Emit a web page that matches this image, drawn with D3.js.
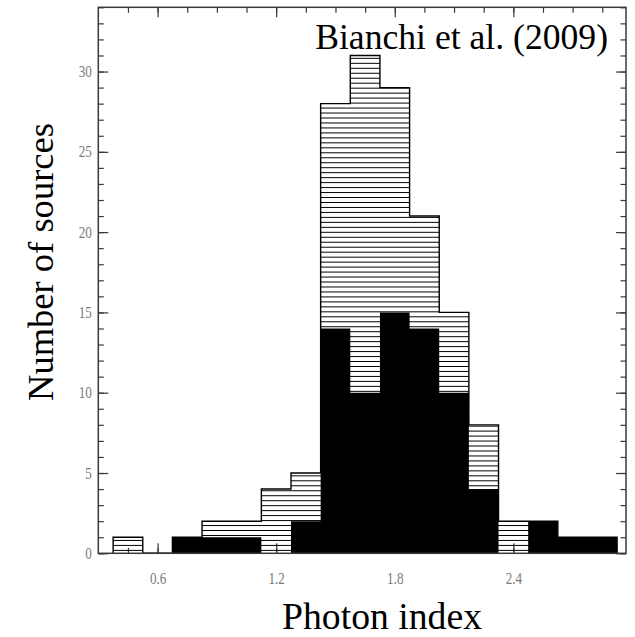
<!DOCTYPE html>
<html>
<head>
<meta charset="utf-8">
<script src="https://cdn.jsdelivr.net/npm/d3@7"></script>
<style>
  html, body { margin: 0; padding: 0; background: #fff; }
  svg { display: block; }
</style>
</head>
<body>
<svg id="chart" width="635" height="637"></svg>
<script>
// ---- data ----
const binCenters = [0.45, 0.6, 0.75, 0.9, 1.05, 1.2, 1.35, 1.5, 1.65, 1.8, 1.95, 2.1, 2.25, 2.4, 2.55, 2.7, 2.85];
const totalCounts = [1, 0, 1, 2, 2, 4, 5, 28, 31, 29, 21, 15, 8, 2, 2, 1, 1];
const subsampleCounts = [0, 0, 1, 1, 1, 0, 2, 14, 10, 15, 14, 10, 4, 0, 2, 1, 1];
const binWidth = 0.15;
const xMajorTicks = [0.6, 1.2, 1.8, 2.4];
const xMinorTicks = [0.45, 0.6, 0.75, 0.9, 1.05, 1.2, 1.35, 1.5, 1.65, 1.8, 1.95, 2.1, 2.25, 2.4, 2.55, 2.7, 2.85];
const yMajorTicks = [0, 5, 10, 15, 20, 25, 30];
const yMinorTicks = d3.range(0, 35, 1);
const xTitle = "Photon index";
const yTitle = "Number of sources";
const annotation = "Bianchi et al. (2009)";

// ---- layout ----
const L = 98.3, R = 626, T = 7.3, B = 553.3;
const svg = d3.select("#chart");
const x = d3.scaleLinear().domain([0.3, 2.97]).range([L, R]);
const y = d3.scaleLinear().domain([0, 34]).range([B, T]);

const serif = "'Liberation Serif', 'Times New Roman', serif";
const axisColor = "#3a3a3a";
const labelColor = "#7a7a7a";
const sx = 0.82; // horizontal squeeze of tick labels

// hatch pattern
const defs = svg.append("defs");
const pat = defs.append("pattern")
  .attr("id", "hatch")
  .attr("patternUnits", "userSpaceOnUse")
  .attr("x", 0).attr("y", 1.2)
  .attr("width", 8).attr("height", 4.97);
pat.append("line")
  .attr("x1", 0).attr("x2", 8).attr("y1", 2.5).attr("y2", 2.5)
  .attr("stroke", "#000").attr("stroke-width", 1.0);

// ---- axes (ticks drawn inward) ----
function styleAxis(g) {
  g.select(".domain").remove();
  g.selectAll(".tick line").attr("stroke", axisColor).attr("stroke-width", 1.2);
  g.selectAll(".tick text").attr("fill", labelColor)
    .attr("font-family", serif).attr("font-size", 16)
    .each(function () {
      const t = d3.select(this);
      const xv = parseFloat(t.attr("x") || 0);
      t.attr("x", xv / sx).attr("transform", `scale(${sx},1)`);
    });
}

const axes = svg.append("g");
// bottom
axes.append("g").attr("transform", `translate(0,${B})`)
  .call(d3.axisBottom(x).tickValues(xMinorTicks).tickSize(-5.5).tickFormat(""))
  .call(styleAxis);
axes.append("g").attr("transform", `translate(0,${B})`)
  .call(d3.axisBottom(x).tickValues(xMajorTicks).tickSize(-10).tickPadding(19).tickFormat(d3.format(".1f")))
  .call(styleAxis);
// top
axes.append("g").attr("transform", `translate(0,${T})`)
  .call(d3.axisTop(x).tickValues(xMinorTicks).tickSize(-5.5).tickFormat(""))
  .call(styleAxis);
axes.append("g").attr("transform", `translate(0,${T})`)
  .call(d3.axisTop(x).tickValues(xMajorTicks).tickSize(-10).tickFormat(""))
  .call(styleAxis);
// left
axes.append("g").attr("transform", `translate(${L},0)`)
  .call(d3.axisLeft(y).tickValues(yMinorTicks).tickSize(-5.5).tickFormat(""))
  .call(styleAxis);
axes.append("g").attr("transform", `translate(${L},0)`)
  .call(d3.axisLeft(y).tickValues(yMajorTicks).tickSize(-10).tickPadding(6.5).tickFormat(d3.format("d")))
  .call(styleAxis);
// right
axes.append("g").attr("transform", `translate(${R},0)`)
  .call(d3.axisRight(y).tickValues(yMinorTicks).tickSize(-5.5).tickFormat(""))
  .call(styleAxis);
axes.append("g").attr("transform", `translate(${R},0)`)
  .call(d3.axisRight(y).tickValues(yMajorTicks).tickSize(-10).tickFormat(""))
  .call(styleAxis);

// ---- histogram steps ----
function stepData(counts) {
  const pts = binCenters.map((c, i) => ({ e: c - binWidth / 2, v: counts[i] }));
  const last = binCenters[binCenters.length - 1] + binWidth / 2;
  pts.push({ e: last, v: counts[counts.length - 1] });
  return pts;
}
const area = d3.area().x(d => x(d.e)).y0(y(0)).y1(d => y(d.v)).curve(d3.curveStepAfter);

const totalPts = stepData(totalCounts);
svg.append("path").datum(totalPts).attr("d", area).attr("fill", "url(#hatch)");
// outline of total histogram
const outlinePts = [{ e: totalPts[0].e, v: 0 }].concat(totalPts).concat([{ e: totalPts[totalPts.length - 1].e, v: 0 }]);
svg.append("path").datum(outlinePts)
  .attr("d", d3.line().x(d => x(d.e)).y(d => y(d.v)).curve(d3.curveStepAfter))
  .attr("fill", "none").attr("stroke", "#000").attr("stroke-width", 1.4);

// subsample (solid black)
svg.append("path").datum(stepData(subsampleCounts)).attr("d", area).attr("fill", "#000");

// frame
svg.append("rect").attr("x", L).attr("y", T).attr("width", R - L).attr("height", B - T)
  .attr("fill", "none").attr("stroke", axisColor).attr("stroke-width", 1.5);

// ---- texts ----
function fitWidth(sel, w) {
  const len = sel.node().getComputedTextLength();
  const fs = parseFloat(sel.attr("font-size"));
  sel.attr("font-size", fs * w / len);
}

const ann = svg.append("text").attr("x", 608).attr("y", 48.5)
  .attr("text-anchor", "end").attr("font-family", serif).attr("font-size", 34)
  .attr("fill", "#000").text(annotation);
fitWidth(ann, 293);

const xt = svg.append("text").attr("x", 382).attr("y", 628.5)
  .attr("text-anchor", "middle").attr("font-family", serif).attr("font-size", 36)
  .attr("fill", "#000").text(xTitle);
fitWidth(xt, 200);

const yt = svg.append("text").attr("transform", "translate(53,262) rotate(-90)")
  .attr("text-anchor", "middle").attr("font-family", serif).attr("font-size", 36)
  .attr("fill", "#000").text(yTitle);
fitWidth(yt, 278);
</script>
</body>
</html>
